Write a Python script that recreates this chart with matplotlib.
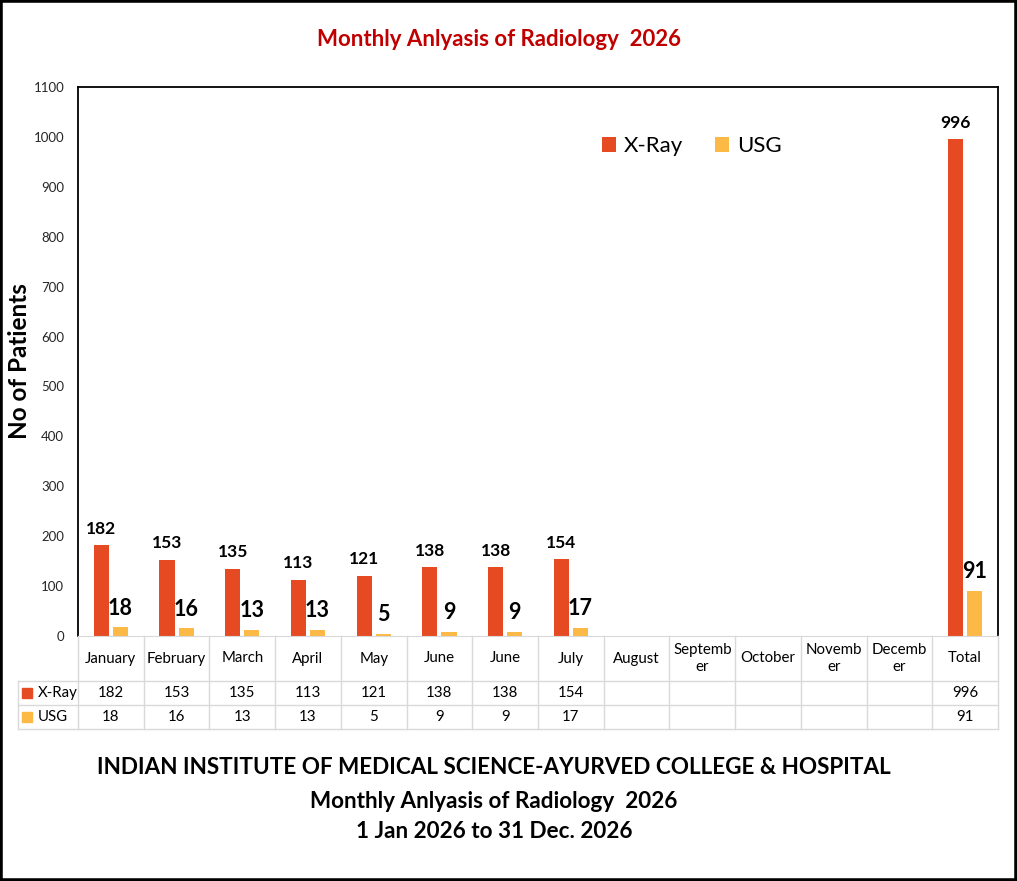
import matplotlib.pyplot as plt
from matplotlib.patches import Rectangle

plt.rcParams['font.family'] = ['Lato', 'DejaVu Sans']

# Data
categories = ['January', 'February', 'March', 'April', 'May', 'June', 'June', 'July',
              'August', 'Septemb\ner', 'October', 'Novemb\ner', 'Decemb\ner', 'Total']
xray = [182, 153, 135, 113, 121, 138, 138, 154, None, None, None, None, None, 996]
usg = [18, 16, 13, 13, 5, 9, 9, 17, None, None, None, None, None, 91]
series_names = ['X-Ray', 'USG']
colors = ['#E64A22', '#FDB945']

W, H = 1017, 881
fig = plt.figure(figsize=(W / 100, H / 100), dpi=100)

# plot area in pixels: x 78..998, y 87..636
ax = fig.add_axes([78 / W, 1 - 636 / H, 920 / W, 549 / H])
n = len(categories)
x = list(range(n))
bw = 0.23
off = 0.145

xr_vals = [v if v is not None else 0 for v in xray]
us_vals = [v if v is not None else 0 for v in usg]
ax.bar([i - off for i in x], xr_vals, bw, color=colors[0], label=series_names[0])
ax.bar([i + off for i in x], us_vals, bw, color=colors[1], label=series_names[1])

for i in x:
    if xray[i] is not None:
        ax.annotate(str(xray[i]), (i - off, xray[i]), xytext=(0, 6), textcoords='offset points',
                    ha='center', va='bottom', fontsize=12.5, fontweight='bold')
    if usg[i] is not None:
        ax.annotate(str(usg[i]), (i + off, usg[i]), xytext=(0, 6), textcoords='offset points',
                    ha='center', va='bottom', fontsize=15.5, fontweight='bold')

ax.set_xlim(-0.5, n - 0.5)
ax.set_ylim(0, 1100)
ax.set_yticks(range(0, 1101, 100))
ax.set_xticks([])
ax.tick_params(axis='y', length=0, pad=10, labelsize=9.5, labelcolor='#262626')
for s in ['left', 'top', 'right']:
    ax.spines[s].set_color('black')
    ax.spines[s].set_linewidth(1.3)
ax.spines['bottom'].set_color('#d9d9d9')

ax.legend(loc='center', bbox_to_anchor=(0.667, 0.8925), ncol=2, frameon=False, fontsize=16,
          handlelength=0.65, handleheight=0.65, handletextpad=0.35, columnspacing=1.4)

fig.text(499 / W, 1 - 40 / H, 'Monthly Anlyasis of Radiology  2026', ha='center', va='center',
         fontsize=16, fontweight='bold', color='#C00000')
fig.text(20 / W, 1 - 361 / H, 'No of Patients', rotation=90, ha='center', va='center',
         fontsize=17.5, fontweight='bold')

# data table below the bars: pixels y 636..729
tab = fig.add_axes([78 / W, 1 - 729 / H, 920 / W, 93 / H])
tab.set_xlim(-0.5, n - 0.5)
tab.set_ylim(93, 0)
tab.axis('off')
grid = '#d9d9d9'
left_edge = -0.5 - 60 / (920 / n)
for i in range(n + 1):
    tab.plot([i - 0.5, i - 0.5], [0, 93], color=grid, lw=1, clip_on=False)
tab.plot([left_edge, left_edge], [45, 93], color=grid, lw=1, clip_on=False)
for yy in [45, 69, 93]:
    tab.plot([left_edge, n - 0.5], [yy, yy], color=grid, lw=1, clip_on=False)

for i, c in enumerate(categories):
    tab.text(i, 22.5, c, ha='center', va='center', fontsize=10.8, linespacing=1.35)
    if xray[i] is not None:
        tab.text(i, 57, str(xray[i]), ha='center', va='center', fontsize=10.8)
    if usg[i] is not None:
        tab.text(i, 81, str(usg[i]), ha='center', va='center', fontsize=10.8)

for name, col, yy in zip(series_names, colors, [57, 81]):
    tab.plot([left_edge + 0.14], [yy], marker='s', ms=6.5, color=col, clip_on=False, ls='none')
    tab.text(left_edge + 0.3, yy, name, ha='left', va='center', fontsize=10.8)

# bottom heading
footer = ['INDIAN INSTITUTE OF MEDICAL SCIENCE-AYURVED COLLEGE & HOSPITAL',
          'Monthly Anlyasis of Radiology  2026',
          '1 Jan 2026 to 31 Dec. 2026']
for line, yy in zip(footer, [767, 801, 831]):
    fig.text(494 / W, 1 - yy / H, line, ha='center', va='center', fontsize=16.2, fontweight='bold')

fig.patches.append(Rectangle((0, 0), 1, 1, transform=fig.transFigure, fill=False,
                             edgecolor='black', lw=4))

fig.savefig('out.png', dpi=100)
